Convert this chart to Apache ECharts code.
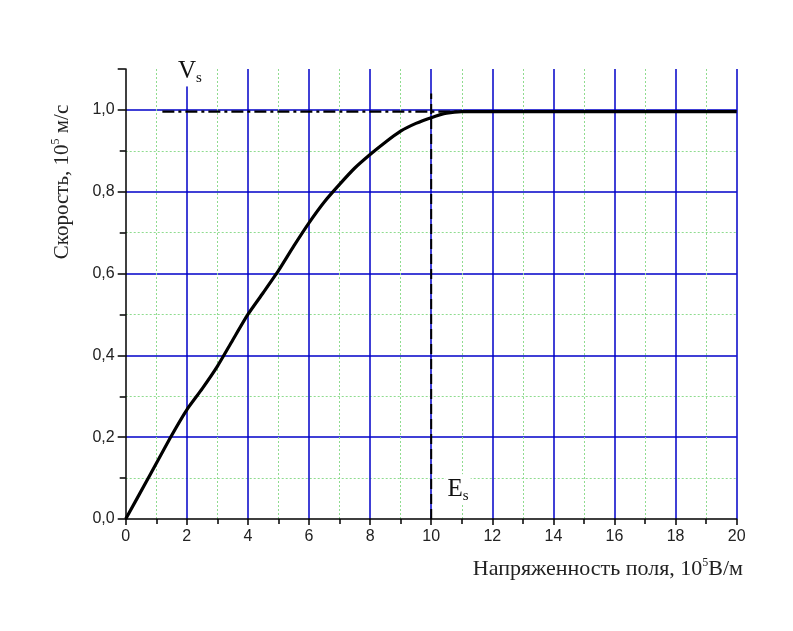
<!DOCTYPE html>
<html><head><meta charset="utf-8">
<script src="https://cdn.jsdelivr.net/npm/echarts@6/dist/echarts.min.js"></script>
<style>html,body{margin:0;padding:0;background:#fff}#c{width:793px;height:631px}</style>
</head><body><div id="c"></div>
<script>
// Field strength, 10^5 V/m
const fieldE = [0, 0.74, 1.47, 2, 2.5, 3, 3.5, 4, 4.5, 5, 5.5, 6, 6.5, 7, 7.5, 8, 8.5, 9, 9.5, 10, 10.5, 11, 20];
// Drift velocity, 10^5 m/s
const velocity = [0, 0.1, 0.2, 0.267, 0.318, 0.373, 0.437, 0.5, 0.553, 0.607, 0.667, 0.724, 0.775, 0.818, 0.858, 0.891, 0.921, 0.948, 0.967, 0.981, 0.992, 0.996, 0.996];
// Saturation velocity line (dash-dot)
const vsLineX = [1.2, 13.8];
const vsValue = 0.996;
// Saturation field line (dashed)
const esValue = 10;
const esLineY = [0, 1.04];
// Axis settings
const xMin = 0, xMax = 20, xMajor = 2;
const yMin = 0, yMax = 1.1, yMajor = 0.2;
const minorSplit = 2;
const xTitle = 'Напряженность поля, 10';
const xTitleUnit = 'В/м';
const yTitle = 'Скорость, 10';
const yTitleUnit = ' м/с';

const chart = echarts.init(document.getElementById('c'), null, {renderer: 'canvas'});
const sans = 'Liberation Sans, Arial, sans-serif';
const serif = 'Liberation Serif, Times New Roman, serif';
const green = '#8fdc8f';
const blue = '#0000c8';

const option = {
  animation: false,
  backgroundColor: '#fff',
  grid: {left: 125.7, right: 56.3, top: 69, bottom: 112, containLabel: false},
  xAxis: {
    type: 'value', min: xMin, max: xMax, interval: xMajor,
    axisLine: {show: true, onZero: false, lineStyle: {color: '#000', width: 1.5}},
    axisTick: {show: true, inside: false, length: 6, lineStyle: {color: '#000', width: 1.5}},
    minorTick: {show: true, splitNumber: minorSplit, length: 5, lineStyle: {color: '#000', width: 1.5}},
    axisLabel: {show: true, margin: 10, color: '#222', fontFamily: sans, fontSize: 16},
    splitLine: {show: true, showMinLine: false, lineStyle: {color: blue, width: 1.5}},
    minorSplitLine: {show: true, lineStyle: {color: green, type: [2, 2], width: 1}}
  },
  yAxis: {
    type: 'value', min: yMin, max: yMax, interval: yMajor,
    axisLine: {show: true, onZero: false, lineStyle: {color: '#000', width: 1.5}},
    axisTick: {show: true, inside: false, length: 8, lineStyle: {color: '#000', width: 1.5}},
    minorTick: {show: true, splitNumber: minorSplit, length: 6, lineStyle: {color: '#000', width: 1.5}},
    axisLabel: {show: true, margin: 11, color: '#222', fontFamily: sans, fontSize: 16, showMaxLabel: false,
      formatter: v => v.toFixed(1).replace('.', ',')},
    splitLine: {show: true, showMinLine: false, showMaxLine: false, lineStyle: {color: blue, width: 1.5}},
    minorSplitLine: {show: true, lineStyle: {color: green, type: [2, 2], width: 1}}
  },
  series: [
    {type: 'line', symbol: 'none', z: 3,
     data: vsLineX.map(x => [x, vsValue]),
     lineStyle: {color: '#000', width: 2.2, type: [12, 4, 3, 4]}},
    {type: 'line', symbol: 'none', z: 3,
     data: esLineY.map(y => [esValue, y]),
     lineStyle: {color: '#000', width: 2, type: [10, 5]}},
    {type: 'line', symbol: 'none', z: 4,
     smooth: 0.2,
     data: fieldE.map((x, i) => [x, velocity[i]]),
     lineStyle: {color: '#000', width: 3.2}}
  ]
};
chart.setOption(option);

const vsPos = chart.convertToPixel({xAxisIndex: 0, yAxisIndex: 0}, [2.1, 1.094]);
const esPos = chart.convertToPixel({xAxisIndex: 0, yAxisIndex: 0}, [10.88, 0.073]);

chart.setOption({
  graphic: [
    {type: 'text', x: 743, y: 569, z: 10,
     style: {text: '{t|' + xTitle + '}{s|5}{t|' + xTitleUnit + '}', align: 'right', verticalAlign: 'middle',
       rich: {t: {fontFamily: serif, fontSize: 22, fill: '#222', lineHeight: 24},
              s: {fontFamily: serif, fontSize: 12, fill: '#222', verticalAlign: 'top', lineHeight: 24, padding: [0, 0, 13, 0]}}}},
    {type: 'text', x: 62, y: 182, rotation: Math.PI / 2, z: 10,
     style: {text: '{t|' + yTitle + '}{s|5}{t|' + yTitleUnit + '}', align: 'center', verticalAlign: 'middle',
       rich: {t: {fontFamily: serif, fontSize: 21, fill: '#222', lineHeight: 24},
              s: {fontFamily: serif, fontSize: 12, fill: '#222', verticalAlign: 'top', lineHeight: 24, padding: [0, 0, 13, 0]}}}},
    {type: 'text', x: vsPos[0], y: vsPos[1], z: 10,
     style: {text: '{v|V}{s|s}', align: 'center', verticalAlign: 'middle', backgroundColor: '#fff', padding: [1, 2, 1, 2],
       rich: {v: {fontFamily: serif, fontSize: 25, fill: '#111', lineHeight: 28},
              s: {fontFamily: serif, fontSize: 15, fill: '#111', verticalAlign: 'bottom', lineHeight: 28, padding: [10, 0, 0, 0]}}}},
    {type: 'text', x: esPos[0], y: esPos[1], z: 10,
     style: {text: '{v|E}{s|s}', align: 'center', verticalAlign: 'middle', backgroundColor: '#fff', padding: [1, 2, 1, 2],
       rich: {v: {fontFamily: serif, fontSize: 25, fill: '#111', lineHeight: 28},
              s: {fontFamily: serif, fontSize: 15, fill: '#111', verticalAlign: 'bottom', lineHeight: 28, padding: [10, 0, 0, 0]}}}}
  ]
});
</script></body></html>
